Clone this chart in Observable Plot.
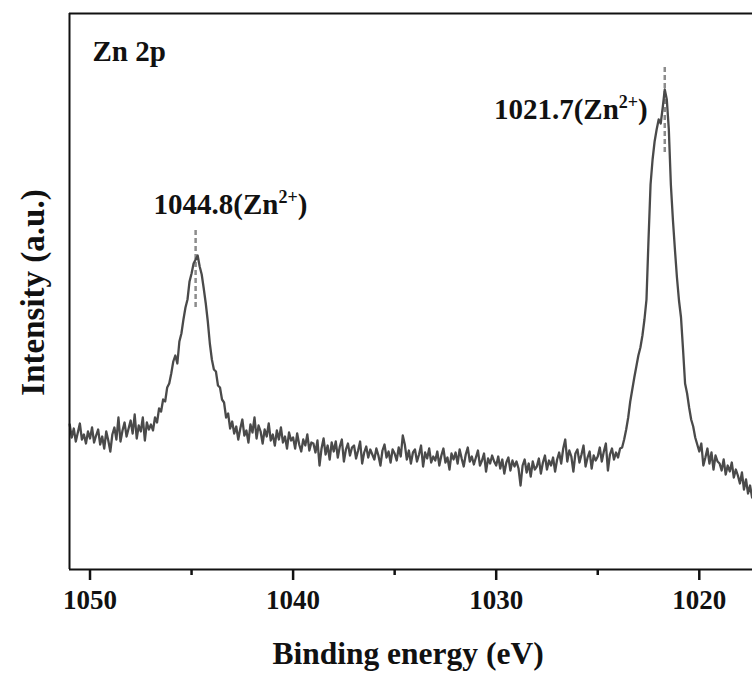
<!DOCTYPE html>
<html><head><meta charset="utf-8">
<script src="https://cdn.jsdelivr.net/npm/d3@7"></script>
<script src="https://cdn.jsdelivr.net/npm/@observablehq/plot@0.6"></script>
<style>html,body{margin:0;padding:0;background:#fff;}</style>
</head><body><div id="chart"></div>
<script>
// Binding energy axis of the scan: first point and spacing (eV)
const energyStart = 1051.0;
const energyStep = 0.1;
// Intensity (a.u.), one value per 0.1 eV from 1051.0 eV downwards
const intensity = [
  145,132,141,128,137,146,130,135,126,138,
  131,142,127,134,140,125,133,121,138,129,
  118,135,142,130,152,128,139,147,133,141,
  149,136,155,131,144,138,152,129,147,140,
  145,139,152,147,161,158,170,168,182,186,
  196,208,214,206,228,236,250,262,270,288,
  296,306,310,314,303,295,281,266,248,226,
  210,200,198,184,182,170,167,152,156,141,
  148,136,143,130,141,150,134,139,127,145,
  137,152,131,144,138,126,140,133,146,129,
  135,124,139,130,142,127,133,121,137,129,
  132,121,136,125,118,130,124,135,119,127,
  126,117,129,104,121,131,115,124,110,127,
  118,128,112,123,130,108,120,126,114,122,
  124,111,119,128,106,117,123,112,120,115,
  110,121,114,104,119,125,112,118,107,120,
  116,109,122,113,134,125,110,119,106,117,
  120,108,115,124,103,117,111,121,107,113,
  109,118,104,114,121,107,112,100,116,110,
  117,106,120,111,103,115,122,108,113,105,
  112,119,104,109,116,98,111,106,114,108,
  104,113,101,110,96,107,112,99,109,103,
  108,101,84,104,110,97,106,93,108,100,
  103,111,96,107,114,100,109,104,112,98,
  110,117,106,121,130,108,119,113,98,116,
  120,107,115,124,103,112,118,101,114,109,
  113,122,108,118,126,99,115,121,110,117,
  112,121,122,130,140,152,168,180,192,203,
  214,222,234,250,270,330,385,410,428,440,
  450,446,462,480,470,440,385,350,320,292,
  269,252,220,186,176,162,150,143,132,125,
  118,126,104,112,121,106,117,100,114,108,
  106,99,110,95,104,98,107,92,100,94,
  86,97,80,90,76,84,72
];
const xDomain = [1051.01, 1017.38];
const yDomain = [0, 556];
const majorTicks = [1050, 1040, 1030, 1020];
const minorTicks = [1045, 1035, 1025];
const peakEnergies = [1044.8, 1021.7];
const peakLabels = ["1044.8(Zn2+)", "1021.7(Zn2+)"];
const dashTop = [339, 504];
const dashBottom = [262, 417];
const panelLabel = "Zn 2p";
const xTitle = "Binding energy (eV)";
const yTitle = "Intensity (a.u.)";

const spectrum = intensity.map((v, i) => ({energy: +(energyStart - i * energyStep).toFixed(2), intensity: v}));
const peaks = peakEnergies.map((e, i) => ({energy: e, label: peakLabels[i], top: dashTop[i], bottom: dashBottom[i]}));

const font = "'Liberation Serif','Times New Roman',serif";
const ink = "#111";

const plot = Plot.plot({
  width: 752, height: 673,
  marginLeft: 69, marginRight: 0, marginTop: 13, marginBottom: 104,
  style: {fontFamily: font, background: "#fff", overflow: "visible"},
  x: {domain: xDomain},
  y: {domain: yDomain, axis: null},
  marks: [
    Plot.ruleX(peaks, {x: "energy", y1: "bottom", y2: "top", stroke: "#8c8c8c", strokeWidth: 2.5, strokeDasharray: "5,3"}),
    Plot.line(spectrum, {x: "energy", y: "intensity", stroke: "#4a4a4a", strokeWidth: 2.3}),
    // frame: bottom, top and left sides (right side lies beyond the picture)
    Plot.ruleY([yDomain[0]], {stroke: ink, strokeWidth: 2}),
    Plot.ruleY([yDomain[1]], {stroke: ink, strokeWidth: 2}),
    Plot.ruleX([xDomain[0]], {stroke: ink, strokeWidth: 2}),
    // outward tick marks below the frame (y scale is 1 unit per px)
    Plot.ruleX(majorTicks, {x: d => d, y1: yDomain[0], y2: yDomain[0] - 11, stroke: ink, strokeWidth: 2.5}),
    Plot.ruleX(minorTicks, {x: d => d, y1: yDomain[0], y2: yDomain[0] - 6, stroke: ink, strokeWidth: 2.5}),
    Plot.axisX(majorTicks, {anchor: "bottom", tickSize: 0, tickPadding: 20, fill: ink,
      fontSize: 27, fontWeight: "bold", fontFamily: font, label: null, tickFormat: d => String(d)}),
    Plot.text([xTitle], {text: d => d, frameAnchor: "bottom", dx: -3, dy: 94, lineAnchor: "bottom", textAnchor: "middle",
      fontSize: 31.5, fontWeight: "bold", fontFamily: font, fill: ink}),
    Plot.text([yTitle], {text: d => d, frameAnchor: "left", rotate: -90, dx: -26, dy: 1, lineAnchor: "bottom", textAnchor: "middle",
      fontSize: 33, fontWeight: "bold", fontFamily: font, fill: ink}),
    Plot.text([panelLabel], {text: d => d, frameAnchor: "top-left", dx: 23, dy: 47, lineAnchor: "bottom", textAnchor: "start",
      fontSize: 29, fontWeight: "bold", fontFamily: font, fill: ink}),
    Plot.text([peaks[0]], {x: "energy", y: "top", text: "label", dx: -42, dy: -17, textAnchor: "start", lineAnchor: "bottom",
      fontSize: 29, fontWeight: "bold", fontFamily: font, fill: ink}),
    Plot.text([peaks[1]], {x: "energy", y: "top", text: "label", dx: -17, dy: 53, textAnchor: "end", lineAnchor: "bottom",
      fontSize: 29, fontWeight: "bold", fontFamily: font, fill: ink})
  ]
});

// Render the charge state as a superscript (Zn²⁺)
d3.select(plot).selectAll("text").each(function () {
  const m = /^(.*Zn)2\+\)$/.exec(this.textContent);
  if (!m) return;
  const sel = d3.select(this);
  sel.text(null);
  sel.append("tspan").text(m[1]);
  sel.append("tspan").attr("font-size", "18px").attr("dy", "-11px").text("2+");
  sel.append("tspan").attr("dy", "11px").text(")");
});

document.getElementById("chart").appendChild(plot);
</script>
</body></html>
